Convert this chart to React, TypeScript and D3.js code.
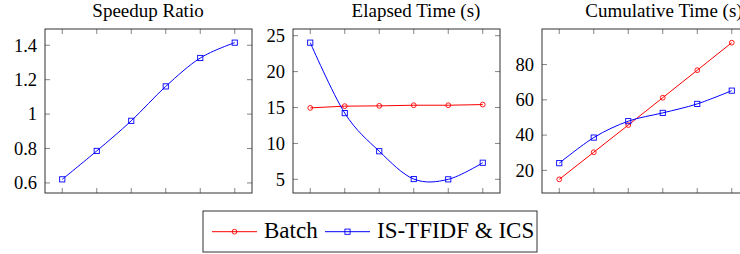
import * as d3 from 'd3';
import { useEffect, useRef } from 'react';

const RED = '#ff0000';
const BLUE = '#0000ff';
const FONT = "Liberation Serif, Times New Roman, serif";

// x positions (no tick labels shown)
const steps = [1, 2, 3, 4, 5, 6];

// Speedup Ratio
const speedupTicks = [0.6, 0.8, 1, 1.2, 1.4];
const speedupIS = [0.621, 0.786, 0.961, 1.161, 1.326, 1.415];

// Elapsed Time (s)
const elapsedTicks = [5, 10, 15, 20, 25];
const elapsedBatch = [14.95, 15.19, 15.23, 15.32, 15.32, 15.41];
const elapsedIS = [24.03, 14.22, 8.91, 5.04, 5.0, 7.31];

// Cumulative Time (s)
const cumulativeTicks = [20, 40, 60, 80];
const cumulativeBatch = [14.94, 30.3, 45.7, 61.2, 76.8, 92.4];
const cumulativeIS = [24.1, 38.6, 47.9, 52.6, 57.7, 65.2];

const panels = [
    { title: 'Speedup Ratio', left: 45, titleX: 148, ticks: speedupTicks, batch: null as number[] | null, is: speedupIS },
    { title: 'Elapsed Time (s)', left: 293, titleX: 416, ticks: elapsedTicks, batch: elapsedBatch, is: elapsedIS },
    { title: 'Cumulative Time (s)', left: 542, titleX: 664, ticks: cumulativeTicks, batch: cumulativeBatch, is: cumulativeIS },
];

const legendItems = [
    { label: 'Batch', color: RED, mark: 'circle' },
    { label: 'IS-TFIDF & ICS', color: BLUE, mark: 'square' },
];

// pgfplots-style: pad the data range by 10% on each side
function enlarge(vals: number[]): [number, number] {
    const [lo, hi] = d3.extent(vals) as [number, number];
    const pad = (hi - lo) * 0.1;
    return [lo - pad, hi + pad];
}

function drawMark(g: any, kind: string, x: number, y: number, color: string) {
    if (kind === 'circle') {
        g.append('circle').attr('cx', x).attr('cy', y).attr('r', 2.4)
            .attr('fill', 'none').attr('stroke', color).attr('stroke-width', 0.9);
    } else {
        g.append('rect').attr('x', x - 2.6).attr('y', y - 2.6).attr('width', 5.2).attr('height', 5.2)
            .attr('fill', 'none').attr('stroke', color).attr('stroke-width', 0.9);
    }
}

export default function App() {
    const ref = useRef<any>(null);

    useEffect(() => {
        const svg = d3.select(ref.current);
        svg.selectAll('*').remove();

        const width = 207;
        const top = 29;
        const bottom = 193;
        const tickLen = 5;

        panels.forEach((p) => {
            const g = svg.append('g');
            const x = d3.scaleLinear().domain([0.5, 6.5]).range([p.left, p.left + width]);
            const all = [...p.is, ...(p.batch || [])];
            const y = d3.scaleLinear().domain(enlarge(all)).range([bottom, top]);

            // title
            g.append('text').attr('x', p.titleX).attr('y', 16.5)
                .attr('text-anchor', 'middle').attr('font-size', 19)
                .text(p.title);

            // ticks (inside, all four sides)
            const tg = g.append('g').attr('stroke', '#777').attr('stroke-width', 0.9);
            steps.forEach((s) => {
                tg.append('line').attr('x1', x(s)).attr('x2', x(s)).attr('y1', bottom).attr('y2', bottom - tickLen);
                tg.append('line').attr('x1', x(s)).attr('x2', x(s)).attr('y1', top).attr('y2', top + tickLen);
            });
            p.ticks.forEach((t) => {
                tg.append('line').attr('x1', p.left).attr('x2', p.left + tickLen).attr('y1', y(t)).attr('y2', y(t));
                tg.append('line').attr('x1', p.left + width).attr('x2', p.left + width - tickLen).attr('y1', y(t)).attr('y2', y(t));
                g.append('text').attr('x', p.left - 8).attr('y', y(t)).attr('dy', '0.34em')
                    .attr('text-anchor', 'end').attr('font-size', 18.5)
                    .text(d3.format('~g')(t));
            });

            // frame
            g.append('rect').attr('x', p.left).attr('y', top).attr('width', width).attr('height', bottom - top)
                .attr('fill', 'none').attr('stroke', '#333').attr('stroke-width', 1);

            const series: any[] = [];
            if (p.batch) series.push({ vals: p.batch, color: RED, mark: 'circle', curve: d3.curveLinear });
            series.push({ vals: p.is, color: BLUE, mark: 'square', curve: d3.curveCardinal.tension(0) });

            series.forEach((s) => {
                const line = d3.line<number>().x((_, i) => x(steps[i])).y((d) => y(d)).curve(s.curve);
                g.append('path').attr('d', line(s.vals)).attr('fill', 'none')
                    .attr('stroke', s.color).attr('stroke-width', 1);
                s.vals.forEach((v: number, i: number) => drawMark(g, s.mark, x(steps[i]), y(v), s.color));
            });
        });

        // legend
        const lg = svg.append('g');
        lg.append('rect').attr('x', 203).attr('y', 211).attr('width', 334).attr('height', 41)
            .attr('fill', 'white').attr('stroke', '#333').attr('stroke-width', 1);
        const legendX = [212, 325];
        legendItems.forEach((item, i) => {
            const lx = legendX[i];
            const ly = 231.7;
            lg.append('line').attr('x1', lx).attr('x2', lx + 45).attr('y1', ly).attr('y2', ly)
                .attr('stroke', item.color).attr('stroke-width', 1);
            drawMark(lg, item.mark, lx + 22.5, ly, item.color);
            lg.append('text').attr('x', lx + 52).attr('y', 237.7)
                .attr('font-size', 23).text(item.label);
        });
    });

    return (
        <svg ref={ref} width={740} height={254} fontFamily={FONT}
            style={{ position: 'absolute', left: 0, top: 0, background: 'white' }}></svg>
    );
}
